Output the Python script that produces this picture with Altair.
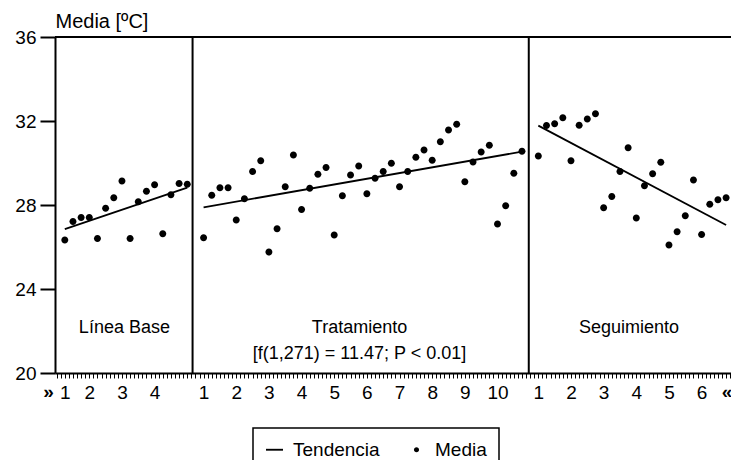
import altair as alt
import pandas as pd

FONT = "Liberation Sans"

# ---- data ----
base_vals = [26.33, 27.22, 27.40, 27.40, 26.40, 27.84, 28.35, 29.14, 26.40, 28.16,
             28.65, 28.97, 26.63, 28.49, 29.02, 28.99]
trat_vals = [26.44, 28.46, 28.82, 28.82, 27.29, 28.30, 29.59, 30.11, 25.76, 26.87,
             28.87, 30.38, 27.78, 28.80, 29.46, 29.78, 26.57, 28.44, 29.43, 29.86,
             28.54, 29.27, 29.60, 29.99, 28.87, 29.60, 30.27, 30.62, 30.13, 31.01,
             31.57, 31.84, 29.11, 30.05, 30.52, 30.84, 27.10, 27.97, 29.51, 30.56]
seg_vals = [30.33, 31.78, 31.87, 32.16, 30.11, 31.80, 32.10, 32.35, 27.87, 28.41,
            29.59, 30.73, 27.38, 28.92, 29.49, 30.03, 26.10, 26.73, 27.49, 29.19,
            26.59, 28.03, 28.25, 28.35]

base_idx = list(range(1, 17))
trat_idx = list(range(18, 58))
seg_idx = list(range(59, 83))

fases = ["Línea Base", "Tratamiento", "Seguimiento"]
trend_x0 = [1, 18, 59]
trend_x1 = [16, 57, 82]
trend_y0 = [26.85, 27.89, 31.78]
trend_y1 = [28.83, 30.54, 27.05]

sep_pos = [16.65, 57.83]

label_pos = [1, 4, 8, 12] + list(range(18, 55, 4)) + list(range(59, 80, 4))
label_txt = ["1", "2", "3", "4"] + [str(i) for i in range(1, 11)] + [str(i) for i in range(1, 7)]

y_ticks = [20, 24, 28, 32, 36]
stat_label = "[f(1,271) = 11.47; P < 0.01]"
legend_names = ["Tendencia", "Media"]

X_MIN, X_MAX = -0.2, 82.6

# ---- tables ----
pts = pd.DataFrame({
    "x": base_idx + trat_idx + seg_idx,
    "y": base_vals + trat_vals + seg_vals,
    "serie": "Media",
})
trend = pd.DataFrame({"fase": fases, "x": trend_x0, "x2": trend_x1,
                      "y": trend_y0, "y2": trend_y1})
frame = pd.DataFrame({
    "x": sep_pos + [X_MIN],
    "x2": sep_pos + [X_MAX],
    "y": [20, 20, 36],
    "y2": [36, 36, 36],
})
panel_txt = pd.DataFrame({
    "x": [8.3, 37.1, 70.1, 37.1],
    "y": [21.9, 21.9, 21.9, 20.67],
    "t": fases + [stat_label],
})
chev = pd.DataFrame({"x": [-1.0, 82.1], "y": [20, 20], "t": ["»", "«"]})

xs = alt.Scale(domain=[X_MIN, X_MAX], nice=False, zero=False)
ys = alt.Scale(domain=[20, 36], nice=False, zero=False)

tick_vals = [i * 0.5 for i in range(0, 166)]
parts = [f"datum.value == {p} ? '{t}'" for p, t in zip(label_pos, label_txt)]
label_expr = " : ".join(parts) + " : ''"

x_axis = alt.Axis(
    title=None, values=tick_vals, labelExpr=label_expr, grid=False,
    domainColor="black", domainWidth=2, tickColor="black", tickWidth=1, tickSize=5,
    labelFont=FONT, labelFontSize=19, labelColor="black", labelPadding=5,
    labelOverlap=False, labelFlush=False, labelBound=False,
)
y_axis = alt.Axis(
    title="Media [ºC]", values=y_ticks, grid=False,
    titleAngle=0, titleAlign="left", titleX=0, titleY=-10, titleBaseline="alphabetic",
    titleFont=FONT, titleFontSize=20, titleFontWeight="normal", titleColor="black",
    domainColor="black", domainWidth=2, tickColor="black", tickWidth=2, tickSize=15,
    labelFont=FONT, labelFontSize=19, labelColor="black", labelPadding=4,
)


def X(field):
    return alt.X(field, scale=xs, axis=x_axis)


def Y(field):
    return alt.Y(field, scale=ys, axis=y_axis)


line_path = "M-1,-0.11L1,-0.11L1,0.11L-1,0.11Z"
dot_path = "M0,-0.3A0.3,0.3,0,1,1,0,0.3A0.3,0.3,0,1,1,0,-0.3Z"

points = alt.Chart(pts).mark_point(
    filled=True, fill="black", strokeWidth=0, opacity=1, size=544
).encode(
    x=X("x:Q"),
    y=Y("y:Q"),
    shape=alt.Shape(
        "serie:N",
        scale=alt.Scale(domain=legend_names, range=[line_path, dot_path]),
        legend=alt.Legend(
            title=None, orient="none", legendX=198, legendY=391, direction="horizontal",
            strokeColor="black", padding=12, labelFont=FONT, labelFontSize=19,
            labelColor="black", symbolSize=289, symbolFillColor="black",
            labelOffset=9, columnPadding=27,
        ),
    ),
)

trend_lines = alt.Chart(trend).mark_rule(color="black", strokeWidth=1.8).encode(
    x=X("x:Q"), x2="x2:Q", y=Y("y:Q"), y2="y2:Q",
)

frame_rules = alt.Chart(frame).mark_rule(color="black", strokeWidth=2).encode(
    x=X("x:Q"), x2="x2:Q", y=Y("y:Q"), y2="y2:Q",
)

labels = alt.Chart(panel_txt).mark_text(
    font=FONT, fontSize=18, color="black", baseline="alphabetic", align="center"
).encode(
    x=X("x:Q"), y=Y("y:Q"), text="t:N",
)

chev_txt = alt.Chart(chev).mark_text(
    font=FONT, fontSize=19, fontWeight="bold", color="black", baseline="top",
    align="center", dy=10
).encode(
    x=X("x:Q"), y=Y("y:Q"), text="t:N",
)

chart = alt.layer(points, frame_rules, trend_lines, labels, chev_txt).properties(
    width=676, height=336,
    autosize=alt.AutoSizeParams(type="none"),
    padding={"left": 47, "top": 29, "right": 0, "bottom": 87},
).configure_view(stroke=None).configure_legend(strokeWidth=1.5)

chart.save("out.html", embed_options={"renderer": "svg", "actions": False})
